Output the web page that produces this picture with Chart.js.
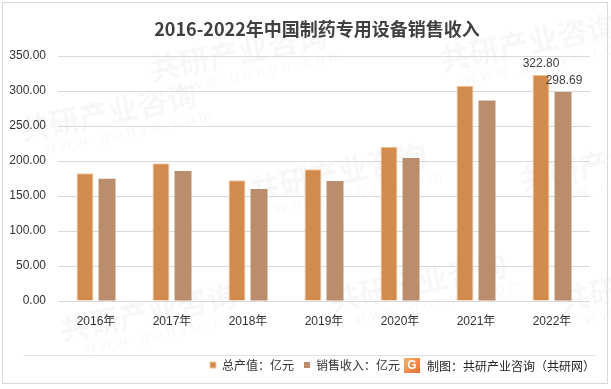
<!DOCTYPE html>
<html lang="zh">
<head>
    <meta charset="UTF-8">
    <title>2016-2022年中国制药专用设备销售收入</title>
    <script src="https://cdn.jsdelivr.net/npm/chart.js"></script>
<style>
    body {
        margin: 0;
        padding: 0;
        background-color: #ffffff;
    }

    canvas {
        display: block;
    }
</style>
</head>
<body>

    <canvas id="salesChart" width="611" height="389"></canvas>

    <script>
        // chart data
        const years = ['2016年', '2017年', '2018年', '2019年', '2020年', '2021年', '2022年'];
        const outputValues = [182.5, 196.8, 172.4, 188.2, 220.3, 307.5, 322.80];
        const salesValues = [174.7, 185.8, 159.9, 171.4, 204.4, 286.4, 298.69];
        const seriesNames = ['总产值：亿元', '销售收入：亿元'];
        const chartTitle = '2016-2022年中国制药专用设备销售收入';
        const sourceText = '制图：共研产业咨询（共研网）';

        const textColor = '#404040';
        const latinFont = "'Liberation Sans', 'Noto Sans CJK SC', sans-serif";

        // faint background watermark spots
        const markSpots = [[150, 70], [440, 60], [20, 130], [250, 190], [520, 180], [60, 330], [330, 300], [560, 300]];

        // frame, watermark, title, separator line and source note
        const decorPlugin = {
            id: 'decor',
            afterLayout(chart) {
                // nudge the legend so it sits where the reference has it
                chart.legend.left += 10;
                chart.legend.right += 10;
            },
            beforeDraw(chart) {
                const ctx = chart.ctx;
                ctx.save();
                ctx.fillStyle = '#ffffff';
                ctx.fillRect(0, 0, chart.width, chart.height);
                ctx.fillStyle = 'rgba(0, 0, 0, 0.03)';
                markSpots.forEach(([x, y]) => {
                    ctx.save();
                    ctx.translate(x, y);
                    ctx.rotate(-0.2);
                    ctx.font = "bold 30px 'Noto Sans CJK SC', sans-serif";
                    ctx.fillText('共研产业咨询', 0, 0);
                    ctx.font = "16px 'Liberation Sans', sans-serif";
                    ctx.fillText('w w w . g o n y n . c o m', 20, 24);
                    ctx.restore();
                });
                ctx.strokeStyle = '#d9d9d9';
                ctx.lineWidth = 1;
                ctx.strokeRect(2.5, 2.5, chart.width - 6, chart.height - 8);
                ctx.restore();
            },
            afterDraw(chart) {
                const ctx = chart.ctx;
                ctx.save();
                // title
                ctx.fillStyle = textColor;
                ctx.font = "bold 18px 'Liberation Sans Narrow', 'Noto Sans CJK SC', sans-serif";
                ctx.textAlign = 'center';
                ctx.textBaseline = 'middle';
                ctx.fillText(chartTitle, 317, 29);

                // separator above legend
                ctx.strokeStyle = '#e3e3e3';
                ctx.beginPath();
                ctx.moveTo(23, 355.5);
                ctx.lineTo(595, 355.5);
                ctx.stroke();

                // small logo
                const g = ctx.createLinearGradient(404, 358, 420, 374);
                g.addColorStop(0, '#f7b267');
                g.addColorStop(1, '#e8692c');
                ctx.fillStyle = g;
                ctx.fillRect(404, 358, 16, 15);
                ctx.fillStyle = '#ffffff';
                ctx.font = "bold 12px 'Liberation Sans', sans-serif";
                ctx.textAlign = 'center';
                ctx.fillText('G', 412, 366);

                // source note
                ctx.fillStyle = '#262626';
                ctx.font = "12px 'Noto Sans CJK SC', sans-serif";
                ctx.textAlign = 'left';
                ctx.fillText(sourceText, 427, 366);
                ctx.restore();
            }
        };

        // value labels on the last category only
        const lastLabelPlugin = {
            id: 'lastLabels',
            afterDatasetsDraw(chart) {
                const ctx = chart.ctx;
                const last = years.length - 1;
                ctx.save();
                ctx.fillStyle = textColor;
                ctx.font = '12px ' + latinFont;
                ctx.textAlign = 'center';
                ctx.textBaseline = 'bottom';
                chart.data.datasets.forEach((ds, i) => {
                    const bar = chart.getDatasetMeta(i).data[last];
                    ctx.fillText(ds.data[last].toFixed(2), bar.x + i, bar.y - 5);
                });
                ctx.restore();
            }
        };

        const ctx = document.getElementById('salesChart').getContext('2d');
        const salesChart = new Chart(ctx, {
            type: 'bar',
            data: {
                labels: years,
                datasets: [{
                    label: seriesNames[0],
                    data: outputValues,
                    backgroundColor: '#d38b4d',
                    borderColor: '#f2c597',
                    borderWidth: 1,
                    barPercentage: 0.77,
                    categoryPercentage: 0.58
                }, {
                    label: seriesNames[1],
                    data: salesValues,
                    backgroundColor: '#ba8d6c',
                    borderWidth: 0,
                    barPercentage: 0.77,
                    categoryPercentage: 0.58
                }]
            },
            options: {
                responsive: false,
                animation: false,
                layout: {
                    padding: { top: 56, right: 21, bottom: 8, left: 0 }
                },
                plugins: {
                    title: { display: false },
                    tooltip: { enabled: false },
                    legend: {
                        position: 'bottom',
                        labels: {
                            boxWidth: 6,
                            boxHeight: 6,
                            padding: 10,
                            color: '#333333',
                            font: { size: 12, family: "'Noto Sans CJK SC', sans-serif" }
                        }
                    }
                },
                scales: {
                    x: {
                        grid: { display: false },
                        border: { display: false },
                        ticks: {
                            color: '#333333',
                            padding: 5,
                            font: { size: 12, family: latinFont }
                        },
                        afterFit(scale) { scale.height = 48; }
                    },
                    y: {
                        min: 0,
                        max: 350,
                        grid: { color: '#d9d9d9', drawTicks: false },
                        border: { display: false },
                        ticks: {
                            stepSize: 50,
                            padding: 12,
                            color: '#333333',
                            font: { size: 12, family: latinFont },
                            callback: v => v.toFixed(2)
                        },
                        afterFit(scale) { scale.width = 58; }
                    }
                }
            },
            plugins: [decorPlugin, lastLabelPlugin]
        });
    </script>

</body>
</html>
